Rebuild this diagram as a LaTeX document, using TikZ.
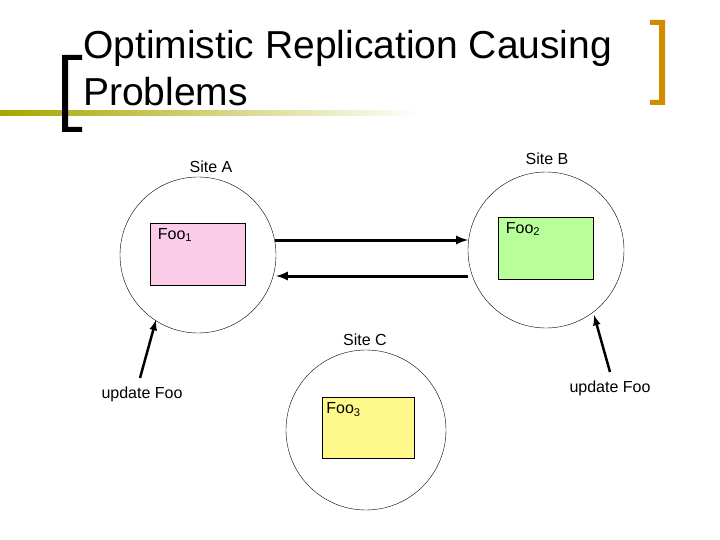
\documentclass[tikz,border=0pt]{standalone}
\usepackage{fontspec}
\setmainfont{Liberation Sans}
\begin{document}
\begin{tikzpicture}[x=1pt,y=-1pt,
  site/.style={circle,draw,thin,minimum size=156pt,inner sep=0},
  box/.style={draw,thin,minimum width=95pt,minimum height=62pt,inner sep=0},
  lab/.style={font=\fontsize{16}{19}\selectfont},
  conn/.style={line width=3pt,-latex},
  upd/.style={line width=2.5pt,-latex}]
\useasboundingbox (0,0) rectangle (720,540);
\shade[left color=olive!70!white,right color=white] (0,111) rectangle (420,116);
\fill[black] (62,55) rectangle (68,132) (62,55) rectangle (82,60) (62,127) rectangle (82,132);
\fill[orange!60!olive!90!yellow] (659,20) rectangle (665,105) (650,20) rectangle (665,25) (650,100) rectangle (665,105);
\node[anchor=base west,font=\fontsize{39}{44}\selectfont,inner sep=0] (t1) at (83,59) {Optimistic Replication Causing};
\node[anchor=base west,font=\fontsize{39}{44}\selectfont,inner sep=0] (t2) at (83,106) {Problems};
\node[site] (A) at (198,255) {};
\node[site] (B) at (546,250) {};
\node[site,minimum size=160pt] (C) at (366,430) {};
\node[box,fill=magenta!20] (f1) at (198,254) {};
\node[box,fill=green!70!yellow!40] (f2) at (546,248) {};
\node[box,fill=yellow!45,minimum width=92pt,minimum height=61pt] (f3) at (368,428) {};
\node[lab,anchor=north west] at ([xshift=4pt,yshift=-2pt]f1.north west) {Foo\textsubscript{1}};
\node[lab,anchor=north west] at ([xshift=4pt,yshift=-2pt]f2.north west) {Foo\textsubscript{2}};
\node[lab,anchor=north west] at ([xshift=1pt,yshift=-2pt]f3.north west) {Foo\textsubscript{3}};
\node[lab] (la) at (211,167) {Site A};
\node[lab] (lb) at (547,159) {Site B};
\node[lab] (lc) at (365,340) {Site C};
\node[lab] (ua) at (142,394) {update Foo};
\node[lab] (ub) at (610,388) {update Foo};
\coordinate (a1) at (275,240); \coordinate (b1) at (468,240);
\coordinate (b2) at (468,276); \coordinate (a2) at (276,276);
\draw[conn] (a1) -- (b1);
\draw[conn] (b2) -- (a2);
\coordinate (ua1) at (140,378); \coordinate (ua2) at (156,320);
\coordinate (ub1) at (610,372); \coordinate (ub2) at (594,315);
\draw[upd] (ua1) -- (ua2);
\draw[upd] (ub1) -- (ub2);
\end{tikzpicture}
\end{document}
